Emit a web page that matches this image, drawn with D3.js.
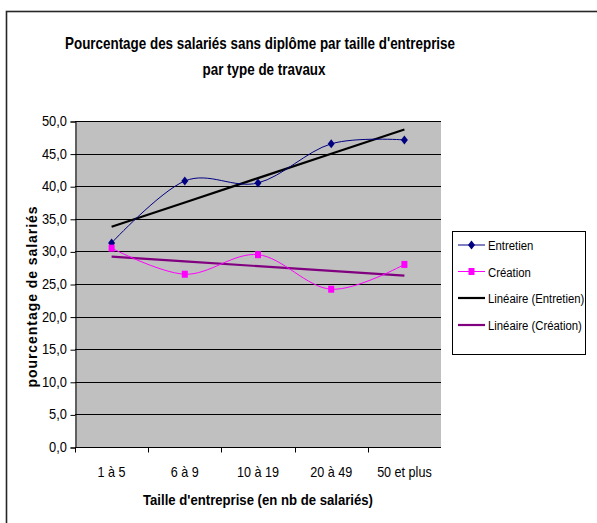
<!DOCTYPE html>
<html><head><meta charset="utf-8">
<script src="https://cdn.jsdelivr.net/npm/d3@7"></script>
<style>body{margin:0;background:#fff}svg{display:block;font-family:"Liberation Sans",Arial,sans-serif}</style>
</head><body>
<svg id="c" width="597" height="523"></svg>
<script>
const categories = ["1 à 5", "6 à 9", "10 à 19", "20 à 49", "50 et plus"];
const entretien = [31.3, 40.8, 40.5, 46.5, 47.1];
const creation = [30.5, 26.5, 29.5, 24.2, 28.0];
const yTicks = [0, 5, 10, 15, 20, 25, 30, 35, 40, 45, 50];
const seriesNames = ["Entretien", "Création", "Linéaire (Entretien)", "Linéaire (Création)"];

const svg = d3.select("#c");
const L = 75, R = 441, T = 121, B = 447;

svg.append("rect").attr("x", 6.5).attr("y", 11.5).attr("width", 620).attr("height", 540)
  .attr("fill", "#fff").attr("stroke", "#262626").attr("stroke-width", 1.6);

const x = d3.scaleBand().domain(categories).range([L, R]);
const cx = c => x(c) + x.bandwidth() / 2;
const y = d3.scaleLinear().domain([0, 50]).range([B, T]);

function ctext(g, px, py, str, size, k, anchor, weight) {
  return g.append("text").attr("transform", `translate(${px},${py}) scale(${k},1)`)
    .attr("text-anchor", anchor || "start").attr("font-size", size)
    .attr("font-weight", weight || "normal").attr("fill", "#000").text(str);
}

svg.append("rect").attr("x", L).attr("y", T).attr("width", R - L).attr("height", B - T).attr("fill", "#c0c0c0");

// gridlines
svg.append("g").selectAll("line").data(yTicks.filter(v => v > 0)).join("line")
  .attr("x1", L).attr("x2", R).attr("y1", d => Math.round(y(d)) + 0.5).attr("y2", d => Math.round(y(d)) + 0.5)
  .attr("stroke", "#000").attr("stroke-width", 1);

// y axis
const fmt = d => d3.format(".1f")(d).replace(".", ",");
const yAxis = d3.axisLeft(y).tickValues(yTicks).tickSize(5).tickFormat("");
const gy = svg.append("g").attr("transform", `translate(${L + 0.5},0.5)`).call(yAxis);
gy.selectAll("path,line").attr("stroke", "#000");
const gyl = svg.append("g");
yTicks.forEach(v => ctext(gyl, 67, y(v) + 5, fmt(v), 14, 0.92, "end"));

// x axis
const gx = svg.append("g").attr("transform", `translate(0,${B + 0.5})`);
gx.append("line").attr("x1", L).attr("x2", R).attr("stroke", "#000");
const bounds = categories.map(c => x(c));
gx.selectAll("line.t").data(bounds).join("line").attr("class", "t")
  .attr("x1", d => Math.round(d) + 0.5).attr("x2", d => Math.round(d) + 0.5).attr("y1", 0).attr("y2", 5).attr("stroke", "#000");
categories.forEach(c => ctext(gx, cx(c), 29, c, 14, 0.9, "middle"));

// trend lines (least squares on the series)
function trend(vals) {
  const xs = vals.map((_, i) => i + 1);
  const mx = d3.mean(xs), my = d3.mean(vals);
  const slope = d3.sum(xs.map((xi, i) => (xi - mx) * (vals[i] - my))) / d3.sum(xs.map(xi => (xi - mx) ** 2));
  const b = my - slope * mx;
  return xs.map(xi => slope * xi + b);
}
const lineStraight = d3.line().x((d, i) => cx(categories[i])).y(d => y(d));
const lineSmooth = d3.line().x((d, i) => cx(categories[i])).y(d => y(d)).curve(d3.curveCatmullRom.alpha(0));

svg.append("path").attr("d", lineStraight(trend(entretien))).attr("fill", "none").attr("stroke", "#000").attr("stroke-width", 2.2);
svg.append("path").attr("d", lineStraight(trend(creation))).attr("fill", "none").attr("stroke", "#800080").attr("stroke-width", 2.2);

svg.append("path").attr("d", lineSmooth(entretien)).attr("fill", "none").attr("stroke", "#000080").attr("stroke-width", 1);
svg.append("path").attr("d", lineSmooth(creation)).attr("fill", "none").attr("stroke", "#ff00ff").attr("stroke-width", 1);

const diamond = (px, py) => `M${px},${py - 4.5}L${px + 3.5},${py}L${px},${py + 4.5}L${px - 3.5},${py}Z`;
svg.append("g").selectAll("path").data(entretien).join("path")
  .attr("d", (d, i) => diamond(cx(categories[i]), y(d))).attr("fill", "#000080");
svg.append("g").selectAll("rect").data(creation).join("rect")
  .attr("x", (d, i) => cx(categories[i]) - 3).attr("y", d => y(d) - 3.5).attr("width", 6).attr("height", 7).attr("fill", "#ff00ff");

// titles
svg.append("text").attr("x", 260).attr("y", 49).attr("text-anchor", "middle").attr("font-weight", "bold")
  .attr("font-size", 16.5).attr("textLength", 390).attr("lengthAdjust", "spacingAndGlyphs")
  .text("Pourcentage des salariés sans diplôme par taille d'entreprise");
svg.append("text").attr("x", 264).attr("y", 75).attr("text-anchor", "middle").attr("font-weight", "bold")
  .attr("font-size", 16.5).attr("textLength", 123).attr("lengthAdjust", "spacingAndGlyphs")
  .text("par type de travaux");
svg.append("text").attr("x", 258).attr("y", 505).attr("text-anchor", "middle").attr("font-weight", "bold")
  .attr("font-size", 15).attr("textLength", 230).attr("lengthAdjust", "spacingAndGlyphs")
  .text("Taille d'entreprise (en nb de salariés)");
svg.append("text").attr("transform", "translate(37,297) rotate(-90)").attr("text-anchor", "middle").attr("font-weight", "bold")
  .attr("font-size", 14).attr("textLength", 181).attr("lengthAdjust", "spacing")
  .text("pourcentage de salariés");

// legend
const lg = svg.append("g");
lg.append("rect").attr("x", 452.5).attr("y", 231.5).attr("width", 133).attr("height", 123).attr("fill", "#fff").attr("stroke", "#000");
const legColors = ["#000080", "#ff00ff", "#000", "#800080"];
const legW = [1, 1, 2.2, 2.2];
const legY = [245, 271.5, 298, 325];
seriesNames.forEach((n, i) => {
  lg.append("line").attr("x1", 458).attr("x2", 485).attr("y1", legY[i]).attr("y2", legY[i]).attr("stroke", legColors[i]).attr("stroke-width", legW[i]);
  if (i === 0) lg.append("path").attr("d", diamond(471.5, legY[i])).attr("fill", "#000080");
  if (i === 1) lg.append("rect").attr("x", 468.5).attr("y", legY[i] - 3.5).attr("width", 6).attr("height", 7).attr("fill", "#ff00ff");
  ctext(lg, 488, legY[i] + 5, n, 13.5, 0.84, "start");
});
</script>
</body></html>
